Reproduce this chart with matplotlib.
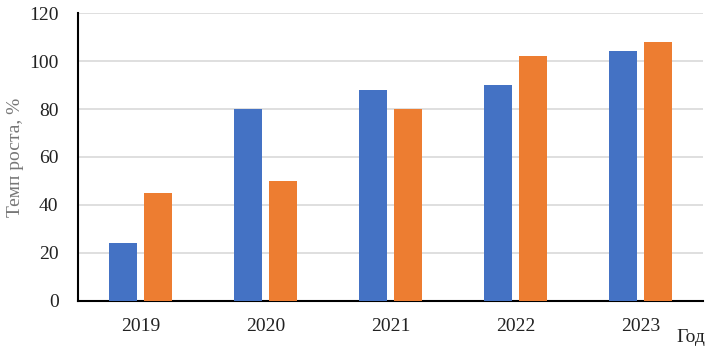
import numpy as np
import matplotlib.pyplot as plt

years = ['2019', '2020', '2021', '2022', '2023']
series_blue = [24, 80, 88, 90, 104]
series_orange = [45, 50, 80, 102, 108]

plt.rcParams['font.family'] = ['Liberation Serif', 'DejaVu Serif']

fig = plt.figure(figsize=(7.16, 3.52), dpi=100)
ax = fig.add_axes([0.109, 0.145, 0.873, 0.818])

x = np.arange(len(years))
w = 0.224
ax.bar(x - 0.14, series_blue, w, color='#4472C4', zorder=3)
ax.bar(x + 0.14, series_orange, w, color='#ED7D31', zorder=3)

ax.set_xlim(-0.5, 4.5)
ax.set_ylim(0, 120)
ax.set_yticks(range(0, 121, 20))
ax.set_xticks(x)
ax.set_xticklabels(years)
ax.yaxis.grid(True, color='#D9D9D9', linewidth=1.2, zorder=0)
ax.tick_params(axis='both', length=0, labelsize=14, colors='#222222')
ax.tick_params(axis='y', pad=14)
ax.tick_params(axis='x', pad=12)

for s in ['top', 'right']:
    ax.spines[s].set_visible(False)
ax.spines['left'].set_linewidth(1.5)
ax.spines['bottom'].set_linewidth(1.5)

ax.set_ylabel('Темп роста, %', fontsize=14, color='#777777', labelpad=4)
fig.text(0.985, 0.04, 'Год', fontsize=14, ha='right', va='center', color='#222222')

fig.savefig('out.png', dpi=100)
